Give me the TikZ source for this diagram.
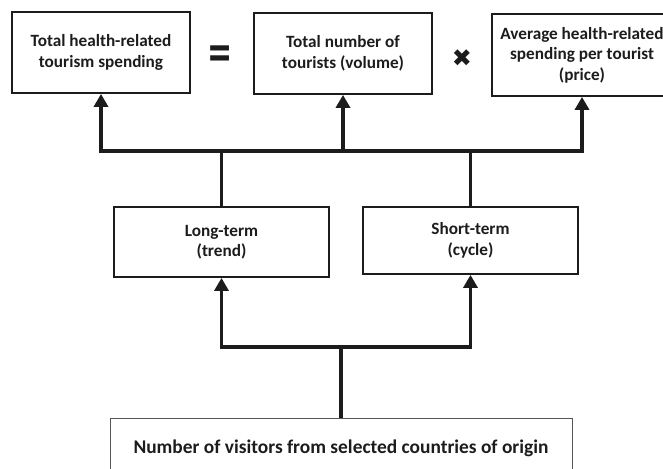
\documentclass[tikz,border=0pt]{standalone}
\usepackage{fontspec}
\setmainfont{Carlito}
\newfontfamily\symfont{DejaVu Sans}
\usetikzlibrary{arrows.meta}
\definecolor{ink}{HTML}{1C1C1C}
\tikzset{
  topbox/.style={draw=ink, line width=1.8pt, rectangle, align=center, text=ink,
    font=\fontsize{17.2}{20.5}\selectfont\bfseries, inner sep=0pt},
  conn/.style={draw=ink, line width=3.6pt, line join=miter},
  arr/.style={conn, -{Triangle[width=14pt,length=13pt]}},
  opsym/.style={text=ink, inner sep=0pt}
}
\begin{document}
\begin{tikzpicture}[x=1pt,y=-1pt]
\useasboundingbox (0,0) rectangle (663,468);
% top row
\node[topbox, minimum width=178pt, minimum height=81pt] (b1) at (101,52.5)
  {Total health-related\\tourism spending};
\node[topbox, minimum width=178pt, minimum height=81pt] (b2) at (343,53.5)
  {Total number of\\tourists (volume)};
\node[topbox, minimum width=180pt, minimum height=82pt] (b3) at (582,55)
  {Average health-related\\spending per tourist\\(price)};
\node[opsym, font=\symfont\bfseries\fontsize{30}{30}\selectfont, yscale=1.5] (eq) at (220,57) {=};
\node[opsym, font=\symfont\fontsize{24}{24}\selectfont] (times) at (462,58) {✖};
% middle row
\node[topbox, minimum width=215pt, minimum height=70pt] (lt) at (221.5,242)
  {Long-term\\(trend)};
\node[topbox, minimum width=215pt, minimum height=67pt] (st) at (470.5,240.5)
  {Short-term\\(cycle)};
% bottom
\node[draw=ink!75, line width=1pt, rectangle, text=ink, inner sep=0pt,
  minimum width=462pt, minimum height=60pt,
  font=\fontsize{19.4}{22}\selectfont\bfseries] (bot) at (341,448)
  {Number of visitors from selected countries of origin};
% connector junctions
\coordinate (jt) at (0,151);
\coordinate (jb) at (0,347);
\draw[arr] (lt.north) -- (lt.north |- jt) -| (b1.south);
\draw[arr] (lt.north |- jt) -| (b2.south);
\draw[arr] (st.north) -- (st.north |- jt) -| (b3.south);
\draw[conn] (st.north |- jt) -- (b2.south |- jt);
\draw[conn] (bot.north) -- (bot.north |- jb);
\draw[arr] (bot.north |- jb) -| (lt.south);
\draw[arr] (bot.north |- jb) -| (st.south);
\end{tikzpicture}
\end{document}
